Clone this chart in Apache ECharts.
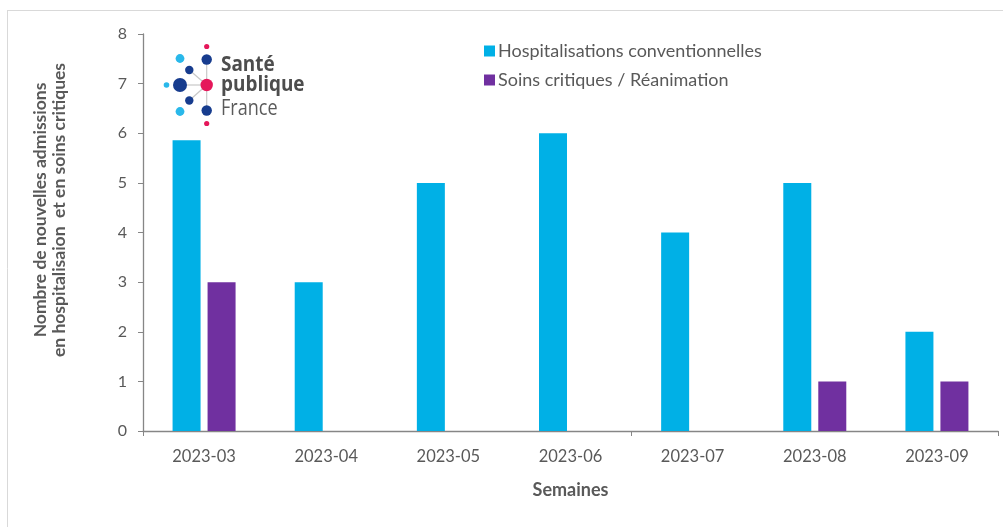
<!DOCTYPE html>
<html>
<head>
<meta charset="utf-8">
<script src="https://cdn.jsdelivr.net/npm/echarts@6/dist/echarts.min.js"></script>
<style>
  html, body { margin: 0; padding: 0; background: #fff; }
  #chart { width: 1003px; height: 527px; }
</style>
</head>
<body>
<div id="chart"></div>
<script>
// Weekly admissions, weeks 2023-03 to 2023-09
const weeks = ['2023-03', '2023-04', '2023-05', '2023-06', '2023-07', '2023-08', '2023-09'];
const hospConv = [5.86, 3, 5, 6, 4, 5, 2];
const soinsCrit = [3, 0, 0, 0, 0, 1, 1];
const yTicks = [0, 1, 2, 3, 4, 5, 6, 7, 8];

const FONT = 'Lato, "Open Sans", sans-serif';
const TXT = '#595959';
const AXIS = '#868686';
const CYAN = '#00B0E6';
const PURPLE = '#7030A0';

// Logo: dots arranged around a central hub, linked by thin grey spokes
const hub = [206.7, 85];
const dots = [
  { p: [206.7, 46.5], r: 2.6, c: '#E5175A', link: false },
  { p: [206.7, 59.5], r: 5.2, c: '#173C8E', link: true },
  { p: [180.0, 58.5], r: 4.4, c: '#29B8EA', link: false },
  { p: [189.3, 70.0], r: 4.2, c: '#173C8E', link: true },
  { p: [166.5, 85.0], r: 2.8, c: '#29B8EA', link: false },
  { p: [180.0, 85.0], r: 7.0, c: '#173C8E', link: true },
  { p: [189.3, 100.5], r: 4.2, c: '#173C8E', link: true },
  { p: [180.0, 111.5], r: 4.4, c: '#29B8EA', link: false },
  { p: [206.7, 110.5], r: 5.2, c: '#173C8E', link: true },
  { p: [206.7, 123.5], r: 2.6, c: '#E5175A', link: false }
];
const logo = [];
dots.filter(d => d.link).forEach(d => {
  logo.push({ type: 'line', silent: true, z: 10,
    shape: { x1: hub[0], y1: hub[1], x2: d.p[0], y2: d.p[1] },
    style: { stroke: '#C8C8C8', lineWidth: 1.2 } });
});
dots.forEach(d => {
  logo.push({ type: 'circle', silent: true, z: 11,
    shape: { cx: d.p[0], cy: d.p[1], r: d.r }, style: { fill: d.c } });
});
logo.push({ type: 'circle', silent: true, z: 11,
  shape: { cx: hub[0], cy: hub[1], r: 6.2 }, style: { fill: '#E5175A' } });
[['Santé', 'bold', 65, 0.86], ['publique', 'bold', 85, 0.86], ['France', 'normal', 109, 0.82]].forEach(([t, w, y, sx]) => {
  logo.push({ type: 'text', silent: true, z: 11, x: 221, y: y, scaleX: sx,
    style: { text: t, font: w + ' 22px "Open Sans", sans-serif', verticalAlign: 'middle',
      fill: w === 'bold' ? '#4D4D4D' : '#5A5A5A' } });
});

const chart = echarts.init(document.getElementById('chart'), null, { renderer: 'canvas' });
chart.setOption({
  backgroundColor: '#fff',
  animation: false,
  grid: { left: 143, right: 5, top: 34, bottom: 96 },
  legend: {
    orient: 'vertical', left: 479, top: 37, itemGap: 11,
    itemWidth: 11, itemHeight: 11, icon: 'rect',
    textStyle: { fontFamily: FONT, fontSize: 18, color: TXT, padding: [0, 0, 0, -2] },
    data: ['Hospitalisations conventionnelles', 'Soins critiques / Réanimation']
  },
  xAxis: {
    type: 'category', data: weeks,
    name: 'Semaines', nameLocation: 'middle', nameGap: 50,
    nameTextStyle: { fontFamily: FONT, fontSize: 18, fontWeight: 'bold', color: TXT },
    axisLine: { lineStyle: { color: AXIS, width: 1.3 } },
    axisTick: { show: true, length: 5, lineStyle: { color: AXIS },
      interval: (i) => i === 0 || i === 4 },
    axisLabel: { fontFamily: FONT, fontSize: 16.5, color: TXT, margin: 17 }
  },
  yAxis: {
    type: 'value', min: yTicks[0], max: yTicks[yTicks.length - 1], interval: 1,
    axisLine: { show: true, lineStyle: { color: AXIS, width: 1.3 } },
    axisTick: { show: true, length: 5, lineStyle: { color: AXIS } },
    splitLine: { show: false },
    axisLabel: { fontFamily: FONT, fontSize: 16, color: TXT, margin: 16 }
  },
  series: [
    { name: 'Hospitalisations conventionnelles', type: 'bar', data: hospConv,
      barWidth: 28, barGap: '25%', itemStyle: { color: CYAN } },
    { name: 'Soins critiques / Réanimation', type: 'bar', data: soinsCrit,
      barWidth: 28, itemStyle: { color: PURPLE } }
  ],
  graphic: [
    // frame lines at top and left
    { type: 'line', silent: true, shape: { x1: 7, y1: 10.5, x2: 1003, y2: 10.5 },
      style: { stroke: '#D9D9D9', lineWidth: 1 } },
    { type: 'line', silent: true, shape: { x1: 7.5, y1: 10, x2: 7.5, y2: 527 },
      style: { stroke: '#D9D9D9', lineWidth: 1 } },
    // y-axis title, two lines rotated
    { type: 'text', silent: true, x: 50, y: 210, rotation: Math.PI / 2,
      style: { text: 'Nombre de nouvelles admissions\nen hospitalisaion  et en soins critiques',
        font: 'bold 17.5px ' + FONT, fill: TXT, align: 'center', verticalAlign: 'middle', lineHeight: 19 } }
  ].concat(logo)
});
</script>
</body>
</html>
